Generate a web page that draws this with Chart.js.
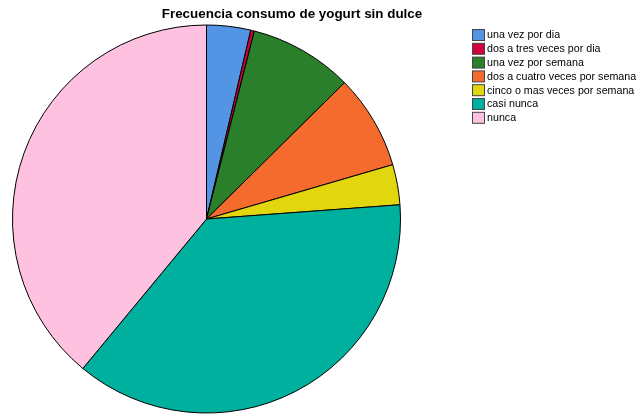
<!DOCTYPE html>
<html>
<head>
<meta charset="utf-8">
<script src="https://cdn.jsdelivr.net/npm/chart.js@4"></script>
<style>
  html, body { margin: 0; padding: 0; background: #fff; }
  #wrap { width: 639px; height: 415px; position: relative; }
</style>
</head>
<body>
<div id="wrap"><canvas id="pie"></canvas></div>
<script>
const chartTitle = 'Frecuencia consumo de yogurt sin dulce';
const categories = [
    'una vez por dia',
    'dos a tres veces por dia',
    'una vez por semana',
    'dos a cuatro veces por semana',
    'cinco o mas veces por semana',
    'casi nunca',
    'nunca'
];
const percents = [3.67, 0.3, 8.64, 7.89, 3.35, 37.2, 39.03];
const sliceColors = ['#5394E4', '#D2003C', '#2A7F2A', '#F46B2D', '#E2D70F', '#00B09E', '#FFC1E0'];

// title + legend drawn by hand so they sit where the original has them
const extras = {
    id: 'extras',
    afterDraw(chart) {
        const ctx = chart.ctx;
        ctx.save();
        ctx.fillStyle = '#000';
        ctx.font = 'bold 13.4px "Liberation Sans", Arial, sans-serif';
        ctx.textAlign = 'center';
        ctx.textBaseline = 'middle';
        ctx.fillText(chartTitle, 292, 14);

        ctx.font = '10.7px "Liberation Sans", Arial, sans-serif';
        ctx.textAlign = 'left';
        chart.data.labels.forEach((lab, i) => {
            const y = 35 + i * 13.8;
            ctx.fillStyle = chart.data.datasets[0].backgroundColor[i];
            ctx.fillRect(472.5, y - 5.5, 12, 11);
            ctx.strokeStyle = '#444';
            ctx.lineWidth = 1;
            ctx.strokeRect(472.5, y - 5.5, 12, 11);
            ctx.fillStyle = '#000';
            ctx.fillText(lab, 487, y + 0.5);
        });
        ctx.restore();
    }
};

new Chart(document.getElementById('pie'), {
    type: 'pie',
    data: {
        labels: categories,
        datasets: [{
            data: percents,
            backgroundColor: sliceColors,
            borderColor: '#000',
            borderWidth: 1
        }]
    },
    options: {
        responsive: true,
        maintainAspectRatio: false,
        animation: false,
        layout: { padding: { left: 12, right: 238, top: 24.5, bottom: 1.5 } },
        plugins: {
            legend: { display: false },
            tooltip: { enabled: false }
        }
    },
    plugins: [extras]
});
</script>
</body>
</html>
